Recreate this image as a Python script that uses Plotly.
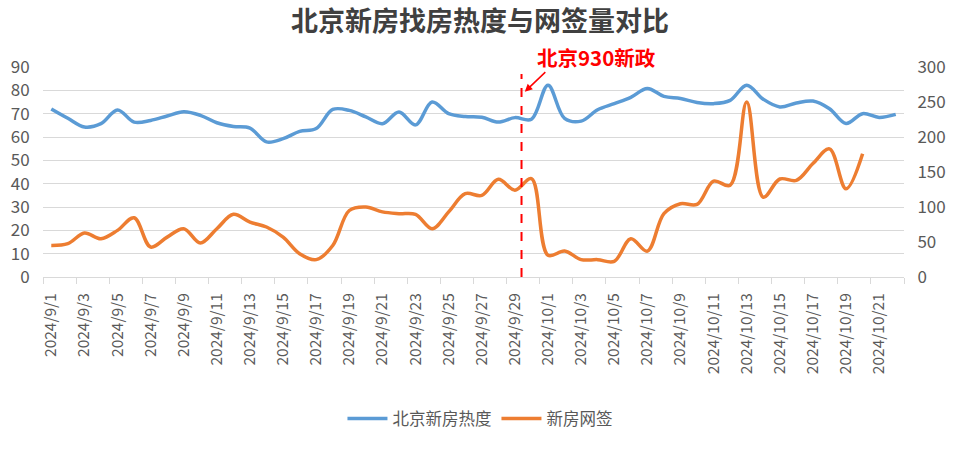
import plotly.graph_objects as go

# 日期 2024/9/1 - 2024/10/22
dates = [f"2024/9/{d}" for d in range(1, 31)] + [f"2024/10/{d}" for d in range(1, 23)]

# 北京新房热度 (left axis)
heat = [72, 68, 64.3, 65.7, 71.6, 66.4, 67.1, 69, 70.8, 69.3,
        66.1, 64.5, 63.8, 57.9, 59.3, 62.4, 63.6, 71.8, 71.4, 68.6,
        65.7, 70.7, 65.2, 75, 70, 68.8, 68.5, 66.4, 68.3, 67.6,
        82.2, 68, 66.8, 71.7, 74.3, 77, 80.8, 77.4, 76.5, 74.8,
        74.3, 75.7, 82.2, 76.2, 72.9, 74.6, 75.4, 72.1, 65.8, 70,
        68.4, 69.7]

# 新房网签 (right axis), through 10/20
sign = [45, 47.6, 62.8, 54.7, 66.6, 84.7, 42.8, 57, 69, 48.6,
        69, 89.5, 78.5, 71.4, 57, 33.3, 24.8, 45, 95, 100,
        93, 90.5, 89.5, 69, 93, 119, 116.6, 139.5, 124, 140.5,
        31, 37, 24.8, 24.8, 22.4, 54.7, 37, 90.5, 104.7, 103.8,
        137, 131, 250, 114, 140, 138, 162, 183, 126, 176]

left_ticks = list(range(0, 91, 10))
right_ticks = list(range(0, 301, 50))

idx = list(range(len(dates)))
label_idx = idx[::2]
label_txt = [dates[i] for i in label_idx]
bounds = [i - 0.5 for i in label_idx] + [len(dates) - 0.5]

FONT = "Noto Sans CJK SC, Liberation Sans, sans-serif"
GREY = "#595959"
GRID = "#d9d9d9"

fig = go.Figure()
fig.add_trace(go.Scatter(
    x=idx, y=heat, name="北京新房热度", mode="lines",
    line=dict(color="#5B9BD5", width=3.5, shape="spline", smoothing=1),
))
fig.add_trace(go.Scatter(
    x=idx[:len(sign)], y=sign, name="新房网签", mode="lines", yaxis="y2",
    line=dict(color="#ED7D31", width=3.5, shape="spline", smoothing=1),
))

# 930新政 marker
x_policy = 28.4
fig.add_shape(type="line", xref="x", yref="y", x0=x_policy, x1=x_policy, y0=0, y1=87,
              line=dict(color="#ff0000", width=2, dash="dash"))
# white text box behind the label (hides the top gridline there)
fig.add_shape(type="rect", xref="x", yref="paper", x0=28.2, x1=40.6, y0=0.97, y1=1.13,
              fillcolor="white", line=dict(width=0), layer="above")
fig.add_annotation(xref="x", yref="y", x=28.6, y=79.4, ax=22, ay=-21, text="",
                   showarrow=True, arrowhead=2, arrowsize=1, arrowwidth=1.5,
                   arrowcolor="#ff0000")
fig.add_annotation(xref="x", yref="paper", x=29.2, y=1.049, xanchor="left", yanchor="middle",
                   text="<b>北京930新政</b>", showarrow=False,
                   font=dict(family=FONT, size=20.5, color="#ff0000"))

fig.update_layout(
    width=960, height=449,
    margin=dict(l=43, r=56, t=67, b=172),
    paper_bgcolor="white", plot_bgcolor="white",
    font=dict(family=FONT, color=GREY),
    title=dict(text="<b>北京新房找房热度与网签量对比</b>", x=0.5, xanchor="center",
               y=1 - 22 / 449, yanchor="middle",
               font=dict(family=FONT, size=27, color="#404040")),
    showlegend=True,
    legend=dict(orientation="h", x=0.5075, xanchor="center", y=-0.675, yanchor="middle",
                font=dict(family=FONT, size=16.5, color=GREY), itemwidth=40),
    xaxis=dict(range=[-0.5, len(dates) - 0.5], tickmode="array", tickvals=bounds,
               ticktext=[""] * len(bounds), ticks="outside", ticklen=6, tickcolor=GRID,
               showline=True, linecolor=GRID, linewidth=1, showgrid=False, zeroline=False),
    xaxis2=dict(overlaying="x", matches="x", anchor="y", side="bottom",
                tickmode="array", tickvals=label_idx, ticktext=label_txt, tickangle=-90,
                ticks="outside", ticklen=9, tickcolor="rgba(0,0,0,0)",
                showgrid=False, zeroline=False, showline=False,
                tickfont=dict(family=FONT, size=15.5, color=GREY)),
    yaxis=dict(range=[0, 90], tickmode="array", tickvals=left_ticks,
               showgrid=True, gridcolor=GRID, gridwidth=1, zeroline=False, showline=False,
               ticks="outside", ticklen=9, tickcolor="rgba(0,0,0,0)",
               tickfont=dict(family=FONT, size=17, color=GREY)),
    yaxis2=dict(range=[0, 300], tickmode="array", tickvals=right_ticks, overlaying="y",
                side="right", showgrid=False, zeroline=False, showline=False,
                ticks="outside", ticklen=9, tickcolor="rgba(0,0,0,0)",
                tickfont=dict(family=FONT, size=17, color=GREY)),
)

# empty trace on xaxis2 so the label axis is drawn
fig.add_trace(go.Scatter(x=[0], y=[None], xaxis="x2", showlegend=False, hoverinfo="skip"))

fig.write_html("out.html", config={"displayModeBar": False},
               post_script="document.body.style.margin='0';")
